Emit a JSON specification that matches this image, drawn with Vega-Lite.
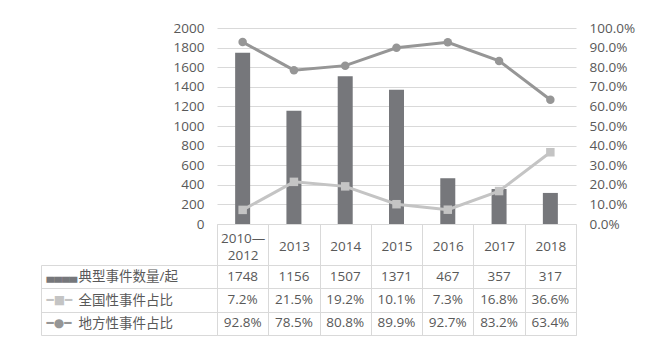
{
  "$schema": "https://vega.github.io/schema/vega-lite/v6.json",
  "padding": {"left": 40, "top": 21, "right": 10, "bottom": 10},
  "background": "white",
  "spacing": 41,
  "bounds": "flush",
  "config": {
    "font": "Open Sans, Noto Sans CJK SC",
    "view": {"stroke": null},
    "axis": {"labelFont": "Open Sans, Noto Sans CJK SC", "labelFontSize": 13.5, "labelColor": "#595959", "labelOverlap": false}
  },
  "datasets": {
    "d": [
      {"period": "2010—2012", "典型事件数量/起": 1748, "全国性事件占比": 0.072, "地方性事件占比": 0.928},
      {"period": "2013", "典型事件数量/起": 1156, "全国性事件占比": 0.215, "地方性事件占比": 0.785},
      {"period": "2014", "典型事件数量/起": 1507, "全国性事件占比": 0.192, "地方性事件占比": 0.808},
      {"period": "2015", "典型事件数量/起": 1371, "全国性事件占比": 0.101, "地方性事件占比": 0.899},
      {"period": "2016", "典型事件数量/起": 467, "全国性事件占比": 0.073, "地方性事件占比": 0.927},
      {"period": "2017", "典型事件数量/起": 357, "全国性事件占比": 0.168, "地方性事件占比": 0.832},
      {"period": "2018", "典型事件数量/起": 317, "全国性事件占比": 0.366, "地方性事件占比": 0.634}
    ]
  },
  "vconcat": [
    {
      "width": 359,
      "height": 196,
      "data": {"name": "d"},
      "layer": [
        {
          "mark": {"type": "bar", "size": 15, "color": "#76777b"},
          "encoding": {
            "x": {"field": "period", "type": "nominal", "sort": null, "title": null,
              "scale": {"paddingInner": 0, "paddingOuter": 0},
              "axis": {"orient": "bottom", "labelAngle": 0, "tickBand": "extent", "ticks": true, "tickSize": 41, "tickColor": "#d9d9d9", "domain": true, "domainColor": "#d9d9d9", "labelBaseline": "middle", "labelAlign": "center", "labelLineHeight": 17, "grid": false,
                "labelPadding": {"condition": {"test": "datum.label == '2010—2012'", "value": -27}, "value": -19},
                "labelExpr": "datum.label == '2010—2012' ? ['2010—', '2012'] : datum.label"}},
            "y": {"field": "典型事件数量/起", "type": "quantitative", "title": null,
              "scale": {"domain": [0, 2000]},
              "axis": {"orient": "left", "values": [0, 200, 400, 600, 800, 1000, 1200, 1400, 1600, 1800, 2000], "format": "d", "grid": true, "gridColor": "#d9d9d9", "ticks": false, "domain": false, "labelPadding": 13, "labelOverlap": false}}
          }
        },
        {
          "transform": [
            {"fold": ["全国性事件占比", "地方性事件占比"], "as": ["series", "pct"]}
          ],
          "encoding": {
            "x": {"field": "period", "type": "nominal", "sort": null, "title": null},
            "y": {"field": "pct", "type": "quantitative", "title": null,
              "scale": {"domain": [0, 1]},
              "axis": {"orient": "right", "values": [0, 0.1, 0.2, 0.3, 0.4, 0.5, 0.6, 0.7, 0.8, 0.9, 1], "tickCount": 11, "format": ".1%", "grid": false, "ticks": false, "domain": false, "labelPadding": 13, "labelOverlap": false, "labelBound": false}},
            "color": {"field": "series", "type": "nominal", "legend": null,
              "scale": {"domain": ["全国性事件占比", "地方性事件占比"], "range": ["#c4c4c4", "#969696"]}}
          },
          "layer": [
            {"mark": {"type": "line", "strokeWidth": 3}},
            {
              "mark": {"type": "point", "filled": true, "size": 72, "opacity": 1},
              "encoding": {
                "shape": {"field": "series", "type": "nominal", "legend": null,
                  "scale": {"domain": ["全国性事件占比", "地方性事件占比"], "range": ["square", "circle"]}}
              }
            }
          ]
        }
      ],
      "resolve": {"scale": {"y": "independent"}}
    },
    {
      "width": 359,
      "height": 70,
      "data": {"name": "d"},
      "view": {"stroke": "#d9d9d9"},
      "transform": [
        {"fold": ["典型事件数量/起", "全国性事件占比", "地方性事件占比"], "as": ["series", "value"]},
        {"calculate": "datum.series === '典型事件数量/起' ? format(datum.value, 'd') : format(datum.value, '.1%')", "as": "label"}
      ],
      "layer": [
        {
          "mark": {"type": "text", "fontSize": 13.5, "color": "#595959"},
          "encoding": {
            "x": {"field": "period", "type": "nominal", "sort": null, "title": null,
              "scale": {"paddingInner": 0, "paddingOuter": 0},
              "axis": {"orient": "bottom", "labels": false, "ticks": false, "domain": false, "grid": true, "gridColor": "#d9d9d9", "tickBand": "extent"}},
            "y": {"field": "series", "type": "nominal", "title": null,
              "sort": ["典型事件数量/起", "全国性事件占比", "地方性事件占比"],
              "scale": {"paddingInner": 0, "paddingOuter": 0},
              "axis": {"orient": "left", "grid": true, "gridColor": "#d9d9d9", "tickBand": "extent", "ticks": true, "tickSize": 176, "tickColor": "#d9d9d9", "domain": false, "labelAlign": "left", "labelPadding": -37, "labelBaseline": "middle"}},
            "text": {"field": "label"}
          }
        },
        {
          "mark": {"type": "text", "text": ""},
          "encoding": {
            "y": {"field": "series", "type": "nominal", "title": null,
              "sort": ["典型事件数量/起", "全国性事件占比", "地方性事件占比"],
              "axis": {"orient": "left", "offset": 176, "domain": true, "domainColor": "#d9d9d9", "ticks": false, "grid": false, "labelAlign": "left", "labelPadding": -5, "labelBaseline": "middle", "labelFont": "DejaVu Sans",
                "labelFontSize": {"condition": {"test": "datum.value === '典型事件数量/起'", "value": 10}, "value": 12},
                "labelExpr": "datum.value === '典型事件数量/起' ? '▄▄▄▄' : datum.value === '全国性事件占比' ? '━■━' : '━●━'",
                "labelColor": {"condition": [{"test": "datum.value === '典型事件数量/起'", "value": "#76777b"}, {"test": "datum.value === '全国性事件占比'", "value": "#c4c4c4"}], "value": "#969696"}}}
          }
        }
      ],
      "resolve": {"axis": {"y": "independent"}}
    }
  ]
}
